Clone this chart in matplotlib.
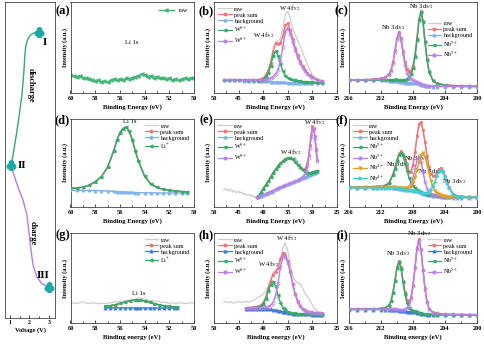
import matplotlib
matplotlib.use("Agg")
import matplotlib.pyplot as plt

plt.rcParams['font.family'] = ['Liberation Serif', 'DejaVu Serif']
plt.rcParams['mathtext.fontset'] = 'stix'

# ---------------- left panel: voltage profile ----------------
dis_V = [2.50, 2.35, 2.19, 2.03, 1.94, 1.86, 1.81, 1.76, 1.73, 1.67, 1.60, 1.47, 1.34, 1.14, 1.05]
dis_t = [0.94, 0.95, 0.99, 1.06, 1.15, 1.27, 1.41, 1.70, 2.05, 2.55, 3.00, 3.60, 4.15, 4.90, 5.16]
chg_V = [1.05, 1.15, 1.41, 1.67, 1.87, 1.97, 2.08, 2.18, 2.38, 2.64, 3.00]
chg_t = [5.16, 5.38, 5.85, 6.27, 6.74, 7.28, 7.85, 8.32, 8.70, 8.92, 9.02]
state_V = [2.50, 1.05, 3.00]
state_t = [0.94, 5.16, 9.02]
state_lbl = ['I', 'II', 'III']
volt_ticks = [1, 2, 3]

# ---------------- Li 1s panels ----------------
li_x = [60.0, 59.75, 59.5, 59.25, 59.0, 58.75, 58.5, 58.25, 58.0, 57.75, 57.5, 57.25, 57.0, 56.75,
        56.5, 56.25, 56.0, 55.75, 55.5, 55.25, 55.0, 54.75, 54.5, 54.25, 54.0, 53.75, 53.5, 53.25,
        53.0, 52.75, 52.5, 52.25, 52.0, 51.75, 51.5, 51.25, 51.0, 50.75, 50.5, 50.25, 50.0]
a_raw = [0.20, 0.19, 0.18, 0.19, 0.17, 0.16, 0.15, 0.14, 0.13, 0.14, 0.12, 0.13, 0.12, 0.14,
         0.15, 0.14, 0.15, 0.14, 0.16, 0.15, 0.17, 0.18, 0.19, 0.21, 0.20, 0.18, 0.19, 0.17,
         0.18, 0.16, 0.17, 0.15, 0.16, 0.14, 0.15, 0.14, 0.15, 0.16, 0.15, 0.17, 0.16]

d_x = [60, 59.5, 59, 58.5, 58, 57.5, 57, 56.5, 56.25, 56, 55.75, 55.5, 55.25, 55, 54.75, 54.5,
       54, 53.5, 53, 52.5, 52, 51.5, 51, 50.6]
d_bg = [0.19, 0.1895, 0.189, 0.188, 0.187, 0.185, 0.182, 0.178, 0.176, 0.174, 0.172, 0.17,
        0.168, 0.166, 0.1645, 0.163, 0.161, 0.1605, 0.16, 0.1595, 0.159, 0.1585, 0.158, 0.158]
d_li = [0.022, 0.028, 0.035, 0.06, 0.10, 0.16, 0.27, 0.46, 0.58, 0.67, 0.72, 0.74, 0.69, 0.60,
        0.47, 0.36, 0.19, 0.10, 0.062, 0.042, 0.031, 0.023, 0.018, 0.015]

g_x = [57.2, 56.8, 56.4, 56.0, 55.6, 55.2, 54.8, 54.6, 54.4, 54.0, 53.6, 53.2, 52.8, 52.4, 52.0, 51.6, 51.4]
g_bg = [0.168, 0.168, 0.168, 0.1678, 0.1675, 0.1672, 0.167, 0.1668, 0.1667, 0.1665, 0.1663,
        0.1662, 0.1661, 0.166, 0.166, 0.166, 0.166]
g_li = [0.018, 0.024, 0.035, 0.049, 0.064, 0.079, 0.089, 0.09, 0.089, 0.079, 0.064, 0.049,
        0.035, 0.024, 0.018, 0.012, 0.011]
g_raw = [0.22, 0.225, 0.215, 0.225, 0.235, 0.22, 0.215, 0.225, 0.22, 0.215, 0.22, 0.215, 0.22,
         0.225, 0.23, 0.235, 0.24, 0.245, 0.25, 0.255, 0.26, 0.265, 0.28, 0.27, 0.265, 0.255,
         0.25, 0.245, 0.24, 0.235, 0.23, 0.225, 0.22, 0.225, 0.215, 0.22, 0.225, 0.215, 0.22,
         0.225, 0.22]

# ---------------- W 4f panels ----------------
b_x = [48, 47, 46, 45, 44, 43, 42, 41, 40.5, 40, 39.5, 39, 38.5, 38, 37.5, 37, 36.5, 36, 35.5,
       35, 34.5, 34, 33.5, 33, 32.5, 32, 31.5, 31, 30.5, 30, 29, 28]
b_bg = [0.145, 0.143, 0.141, 0.139, 0.137, 0.135, 0.133, 0.131, 0.130, 0.129, 0.128, 0.127,
        0.126, 0.125, 0.124, 0.122, 0.120, 0.118, 0.116, 0.114, 0.113, 0.112, 0.111, 0.110,
        0.110, 0.109, 0.109, 0.108, 0.108, 0.107, 0.106, 0.105]
b_w1 = [0, 0, 0, 0, 0.001, 0.002, 0.003, 0.005, 0.01, 0.02, 0.045, 0.09, 0.17, 0.28, 0.34, 0.29,
        0.20, 0.12, 0.075, 0.05, 0.04, 0.033, 0.028, 0.024, 0.02, 0.017, 0.014, 0.012, 0.01,
        0.009, 0.007, 0.005]
b_w2 = [0.002, 0.003, 0.003, 0.004, 0.005, 0.006, 0.008, 0.01, 0.012, 0.015, 0.02, 0.026, 0.035,
        0.05, 0.08, 0.13, 0.23, 0.39, 0.56, 0.60, 0.54, 0.45, 0.36, 0.285, 0.22, 0.17, 0.13,
        0.10, 0.075, 0.058, 0.035, 0.022]
b_raw = [0.15, 0.145, 0.148, 0.142, 0.146, 0.14, 0.147, 0.15, 0.155, 0.17, 0.2, 0.25, 0.34, 0.47,
         0.56, 0.57, 0.6, 0.72, 0.86, 0.9, 0.82, 0.71, 0.64, 0.58, 0.52, 0.45, 0.38, 0.31, 0.25,
         0.2, 0.155, 0.135]

e_x = [41.25, 41, 40.5, 40, 39.5, 39, 38.5, 38, 37.5, 37, 36.5, 36, 35.5, 35, 34.5, 34, 33.5, 33,
       32.5, 32, 31.5, 31.25, 31, 30.75, 30.5, 30.25, 30, 29.75, 29.5, 29.25, 29.0]
e_bg = [0.11, 0.116, 0.128, 0.14, 0.151, 0.163, 0.175, 0.187, 0.199, 0.211, 0.222, 0.234, 0.246,
        0.258, 0.27, 0.282, 0.293, 0.305, 0.317, 0.329, 0.341, 0.346, 0.352, 0.358, 0.364, 0.37,
        0.376, 0.382, 0.388, 0.394, 0.4]
e_w1 = [0.0, 0.01, 0.035, 0.07, 0.10, 0.13, 0.165, 0.20, 0.23, 0.255, 0.275, 0.29, 0.298, 0.298,
        0.285, 0.26, 0.22, 0.175, 0.13, 0.09, 0.055, 0.045, 0.035, 0.03, 0.025, 0.022, 0.02,
        0.018, 0.016, 0.014, 0.012]
e_w2 = [0, 0, 0, 0, 0, 0, 0, 0, 0, 0, 0, 0, 0, 0, 0, 0, 0, 0, 0.005, 0.01, 0.03, 0.06, 0.11,
        0.20, 0.31, 0.43, 0.52, 0.50, 0.40, 0.25, 0.12]
e_raw_x = [48, 47.75, 47.5, 47.25, 47, 46.75, 46.5, 46.25, 46, 45.75, 45.5, 45.25, 45, 44.75,
           44.5, 44.25, 44, 43.75, 43.5, 43.25, 43, 42.75, 42.5, 42.25, 42, 41.75, 41.5, 41.25,
           41, 40.5, 40, 39.5, 39, 38.5, 38, 37.5, 37, 36.5, 36, 35.5, 35, 34.5, 34, 33.5, 33,
           32.5, 32, 31.5, 31, 30.5, 30, 29.5, 29]
e_raw = [0.2, 0.21, 0.19, 0.2, 0.18, 0.2, 0.19, 0.17, 0.19, 0.18, 0.16, 0.17, 0.18, 0.16, 0.17,
         0.15, 0.16, 0.14, 0.15, 0.13, 0.14, 0.13, 0.14, 0.12, 0.13, 0.11, 0.12, 0.11,
         0.12, 0.15, 0.19, 0.24, 0.29, 0.33, 0.38, 0.42, 0.46, 0.5, 0.52, 0.55, 0.57, 0.56, 0.55,
         0.56, 0.52, 0.47, 0.42, 0.43, 0.5, 0.7, 0.9, 0.82, 0.55]

h_x = [43.5, 43, 42.5, 42, 41.5, 41, 40.5, 40, 39.5, 39, 38.5, 38, 37.5, 37, 36.5, 36, 35.75,
       35.5, 35, 34.5, 34, 33.5, 33, 32.5, 32, 31.5, 31, 30.5, 30, 29.5, 29, 28.5, 28]
h_bg = [0.157, 0.157, 0.157, 0.157, 0.1569, 0.1568, 0.1567, 0.1567, 0.1557, 0.1538, 0.1508,
        0.1476, 0.1431, 0.1375, 0.1321, 0.1254, 0.1216, 0.1183, 0.1119, 0.1064, 0.1023, 0.099,
        0.0972, 0.0961, 0.0954, 0.0949, 0.0947, 0.0945, 0.0944, 0.0943, 0.0942, 0.0941, 0.094]
h_w1 = [0.005, 0.006, 0.007, 0.009, 0.011, 0.017, 0.028, 0.053, 0.109, 0.2, 0.275, 0.31, 0.27,
        0.174, 0.093, 0.043, 0.03, 0.022, 0.014, 0.01, 0.008, 0.007, 0.006, 0.005, 0.005, 0.004,
        0.004, 0.003, 0.003, 0.003, 0.002, 0.002, 0.002]
h_w2 = [0.004, 0.005, 0.006, 0.007, 0.008, 0.01, 0.013, 0.016, 0.021, 0.028, 0.044, 0.079, 0.158,
        0.302, 0.49, 0.611, 0.63, 0.617, 0.56, 0.46, 0.328, 0.22, 0.139, 0.088, 0.057, 0.041,
        0.032, 0.024, 0.02, 0.018, 0.015, 0.013, 0.011]
h_raw_x = [48, 47.5, 47, 46.5, 46, 45.5, 45, 44.5, 44, 43.5, 43, 42.5, 42, 41.5, 41, 40.5, 40,
           39.5, 39, 38.5, 38, 37.5, 37, 36.5, 36, 35.5, 35, 34.5, 34, 33.5, 33, 32.5, 32, 31.5,
           31, 30.5, 30, 29.5, 29, 28.5, 28]
h_raw = [0.23, 0.24, 0.225, 0.235, 0.22, 0.23, 0.24, 0.225, 0.235, 0.24, 0.23, 0.245, 0.25, 0.27,
         0.29, 0.3, 0.32, 0.35, 0.41, 0.49, 0.56, 0.58, 0.6, 0.68, 0.84, 0.89, 0.8, 0.65, 0.52,
         0.47, 0.45, 0.43, 0.39, 0.33, 0.29, 0.25, 0.2, 0.16, 0.13, 0.12, 0.11]

# ---------------- Nb 3d panels ----------------
nb_x = [216, 215, 214, 213, 212, 211.5, 211, 210.75, 210.5, 210.25, 210, 209.75, 209.5, 209.25,
        209, 208.75, 208.5, 208.25, 208, 207.75, 207.5, 207.25, 207, 206.75, 206.5, 206.25, 206,
        205.5, 205, 204, 203, 202, 201, 200]
c_bg = [0.140, 0.1395, 0.139, 0.1385, 0.138, 0.1375, 0.137, 0.136, 0.1355, 0.1346, 0.131, 0.1253,
        0.1197, 0.116, 0.114, 0.1127, 0.112, 0.111, 0.1103, 0.1084, 0.1054, 0.1, 0.0914, 0.083,
        0.0774, 0.0744, 0.0727, 0.0714, 0.071, 0.0705, 0.0703, 0.0702, 0.0701, 0.07]
c_nb1 = [0.002, 0.002, 0.003, 0.004, 0.006, 0.007, 0.009, 0.01, 0.012, 0.014, 0.015, 0.018, 0.022,
         0.027, 0.032, 0.044, 0.06, 0.096, 0.16, 0.29, 0.48, 0.7, 0.8, 0.7, 0.48, 0.29, 0.16, 0.06,
         0.032, 0.015, 0.009, 0.006, 0.004, 0.003]
c_nb2 = [0.003, 0.004, 0.005, 0.009, 0.018, 0.029, 0.064, 0.106, 0.19, 0.32, 0.46, 0.53, 0.46,
         0.32, 0.19, 0.106, 0.064, 0.04, 0.029, 0.021, 0.018, 0.014, 0.012, 0.01, 0.009, 0.008,
         0.007, 0.006, 0.005, 0.004, 0.003, 0.002, 0.002, 0.002]

i_bg = [0.1496, 0.1496, 0.1495, 0.1494, 0.1492, 0.149, 0.1485, 0.1478, 0.1466, 0.1447, 0.1418,
        0.1374, 0.133, 0.1301, 0.1281, 0.1266, 0.1255, 0.1243, 0.1223, 0.1192, 0.1148, 0.1083,
        0.1018, 0.0974, 0.0945, 0.0927, 0.0918, 0.0913, 0.0909, 0.0906, 0.0904, 0.0903, 0.0902, 0.09]
i_nb1 = [0.0016, 0.0022, 0.003, 0.0049, 0.0097, 0.016, 0.043, 0.092, 0.189, 0.324, 0.47, 0.54,
         0.47, 0.324, 0.189, 0.092, 0.043, 0.024, 0.016, 0.012, 0.0097, 0.0081, 0.0065, 0.0054,
         0.0049, 0.0043, 0.0038, 0.003, 0.0025, 0.002, 0.0016, 0.0016, 0.0016, 0.0016]
i_nb2 = [0.0024, 0.0024, 0.0024, 0.003, 0.0037, 0.0045, 0.0057, 0.0065, 0.0073, 0.0082, 0.0098,
         0.012, 0.0147, 0.018, 0.024, 0.037, 0.065, 0.139, 0.285, 0.489, 0.709, 0.815, 0.709,
         0.489, 0.285, 0.139, 0.065, 0.024, 0.0147, 0.0073, 0.0045, 0.003, 0.0026, 0.0024]

f_x = [216, 215, 214, 213, 212.5, 212, 211.5, 211, 210.5, 210.25, 210, 209.75, 209.5, 209.25, 209,
       208.75, 208.5, 208.25, 208, 207.75, 207.5, 207.25, 207, 206.75, 206.5, 206.25, 206, 205.75,
       205.5, 205.25, 205, 204.75, 204.5, 204.25, 204, 203.75, 203.5, 203, 202.5, 202, 201, 200]
f_bg = [0.22, 0.22, 0.22, 0.2199, 0.2198, 0.2197, 0.2195, 0.2192, 0.218, 0.216, 0.2129, 0.209,
        0.2044, 0.1999, 0.196, 0.193, 0.1905, 0.1887, 0.1863, 0.1825, 0.1766, 0.1688, 0.16,
        0.1513, 0.144, 0.1386, 0.1346, 0.1317, 0.1295, 0.1273, 0.1249, 0.1218, 0.1185, 0.1152,
        0.1123, 0.1101, 0.1086, 0.1073, 0.107, 0.107, 0.107, 0.107]
f_nb1 = [0.002, 0.0025, 0.004, 0.006, 0.008, 0.011, 0.018, 0.049, 0.144, 0.221, 0.308, 0.381, 0.41,
         0.381, 0.308, 0.221, 0.144, 0.086, 0.049, 0.029, 0.018, 0.014, 0.011, 0.009, 0.008, 0.007,
         0.006, 0.005, 0.0045, 0.004, 0.0037, 0.0034, 0.003, 0.0028, 0.0026, 0.0024, 0.002,
         0.0018, 0.0016, 0.0014, 0.001, 0.001]
f_nb2 = [0.001, 0.001, 0.0012, 0.0014, 0.0016, 0.002, 0.0023, 0.0028, 0.0037, 0.0041, 0.0049,
         0.0062, 0.0074, 0.009, 0.012, 0.018, 0.033, 0.07, 0.144, 0.246, 0.357, 0.41, 0.357,
         0.246, 0.144, 0.07, 0.033, 0.018, 0.012, 0.009, 0.0074, 0.0062, 0.0049, 0.0041, 0.0037,
         0.0033, 0.003, 0.0025, 0.002, 0.0018, 0.0015, 0.0012]
f_nb3 = [0.001, 0.0014, 0.0018, 0.0023, 0.0028, 0.003, 0.0037, 0.0046, 0.0058, 0.0064, 0.0075,
         0.0087, 0.0106, 0.0129, 0.016, 0.021, 0.032, 0.055, 0.097, 0.161, 0.248, 0.345, 0.428,
         0.46, 0.428, 0.345, 0.248, 0.161, 0.097, 0.055, 0.032, 0.021, 0.016, 0.0129, 0.0106,
         0.0087, 0.0075, 0.0058, 0.0046, 0.0037, 0.0028, 0.0023]
f_nb4 = [0.0006, 0.0006, 0.0008, 0.0009, 0.0009, 0.001, 0.0012, 0.0013, 0.0015, 0.0016, 0.0018,
         0.0019, 0.0021, 0.0024, 0.0027, 0.003, 0.0033, 0.0037, 0.0042, 0.005, 0.0057, 0.0069,
         0.0084, 0.0105, 0.0135, 0.021, 0.036, 0.063, 0.105, 0.162, 0.225, 0.279, 0.3, 0.279,
         0.225, 0.162, 0.105, 0.036, 0.0135, 0.0084, 0.0042, 0.0027]

# ---------------- styling ----------------
C_RAW = '#cdcdcd'
C_SUM = '#f27474'
C_BG = '#7fb0ea'
C_BG2 = '#3f7ad8'
C_G = '#35aa6c'
C_P = '#b982e6'
C_Y = '#dca526'
C_C = '#3ccfd8'
C_LG = '#3aa86a'
C_LP = '#b27ee0'
C_CLUB = '#1aa9a3'
LW = 1.05
MS = 2.3

W, H = 484.0, 344.0
fig = plt.figure(figsize=(4.84, 3.44), dpi=100)


def rect(l, t, r, b):
    return [l / W, 1 - b / H, (r - l) / W, (b - t) / H]


cols = [(70.5, 194), (214, 337), (349, 477)]
rows = [(2, 93), (119, 207), (233, 323)]


def make_ax(ci, ri):
    l, r = cols[ci]
    t, b = rows[ri]
    return fig.add_axes(rect(l, t, r, b))


def style(ax, xlim, ticks, minor, xlabel, letter, ly):
    ax.set_xlim(*xlim)
    ax.set_ylim(0, 1)
    ax.set_xticks(ticks)
    ax.set_xticklabels([str(v) for v in ticks])
    ax.set_xticks(minor, minor=True)
    ax.set_yticks([])
    ax.tick_params(axis='x', which='both', direction='in', labelsize=4.6, pad=1.8, width=0.5)
    ax.tick_params(axis='x', which='major', length=2)
    ax.tick_params(axis='x', which='minor', length=1.2)
    plt.setp(ax.get_xticklabels(), fontweight='bold')
    ax.set_xlabel(xlabel, fontsize=4.8, fontweight='bold', labelpad=2.5)
    ax.set_ylabel('Intensity (a.u.)', fontsize=4.4, fontweight='bold', labelpad=2)
    for s in ax.spines.values():
        s.set_linewidth(0.6)
        s.set_color('#444444')
    ax.text(-0.004, ly, '(' + letter + ')', transform=ax.transAxes, ha='right', va='center',
            fontsize=9, fontweight='bold')


def add(a, b):
    return [u + v for u, v in zip(a, b)]


def fit(ax, x, bg, comps, ccols, cmarks, bgc=C_BG, raw_x=None, raw_y=None):
    total = list(bg)
    for c in comps:
        total = add(total, c)
    if raw_x is None:
        raw_x, raw_y = x, total
    ax.plot(raw_x, raw_y, color=C_RAW, lw=0.9, zorder=1)
    ax.plot(x, total, color=C_SUM, lw=LW, marker='o', ms=MS * 0.8, mew=0.4, zorder=2)
    ax.plot(x, bg, color=bgc, lw=LW, marker='^', ms=MS, mew=0.4, zorder=3)
    for c, col, mk in zip(comps, ccols, cmarks):
        ax.plot(x, add(bg, c), color=col, lw=LW, marker=mk, ms=MS, mew=0.5, zorder=4,
                mfc='none' if mk == 'o' else col)


def legend(ax, labels, ccols, cmarks, loc, anchor=None, bgc=C_BG):
    from matplotlib.lines import Line2D
    hs = [Line2D([], [], color=C_RAW, lw=0.9),
          Line2D([], [], color=C_SUM, lw=0.9, marker='o', ms=1.8),
          Line2D([], [], color=bgc, lw=0.9, marker='^', ms=2.0)]
    for col, mk in zip(ccols, cmarks):
        hs.append(Line2D([], [], color=col, lw=0.9, marker=mk, ms=2.0,
                         mfc='none' if mk == 'o' else col))
    kw = dict(fontsize=4.4, frameon=False, handlelength=2.2, labelspacing=0.12,
              handletextpad=0.4, borderaxespad=0.3, loc=loc)
    if anchor is not None:
        kw['bbox_to_anchor'] = anchor
    ax.legend(hs, labels, **kw)


li_ticks = [60, 58, 56, 54, 52, 50]
li_minor = [59, 57, 55, 53, 51]
w_ticks = [50, 45, 40, 35, 30, 25]
w_minor = [47.5, 42.5, 37.5, 32.5, 27.5]
nb_ticks = [216, 212, 208, 204, 200]
nb_minor = [214, 210, 206, 202]
XL1 = 'Binding Energy (eV)'
XL2 = 'Binding energy (eV)'
tfs = 4.8

# ---- (a)
ax = make_ax(0, 0)
ax.plot(li_x, a_raw, color='#45b578', lw=LW, marker='<', ms=MS, label='raw')
style(ax, (60, 50), li_ticks, li_minor, XL1, 'a', 0.9)
ax.legend(loc='upper right', fontsize=4.4, frameon=False, handlelength=2.4, borderaxespad=0.6)
ax.text(55.0, 0.55, 'Li 1s', fontsize=tfs, ha='center', va='center')

# ---- (b)
ax = make_ax(1, 0)
fit(ax, b_x, b_bg, [b_w1, b_w2], [C_G, C_P], ['<', 'o'], raw_x=b_x, raw_y=b_raw)
style(ax, (50, 25), w_ticks, w_minor, XL1, 'b', 0.9)
legend(ax, ['raw', 'peak sum', 'background', 'W$^{6+}$', 'W$^{6+}$'], [C_G, C_P], ['<', 'o'],
       'upper left')
ax.text(34.6, 0.93, 'W 4f$_{7/2}$', fontsize=tfs, ha='center', va='center')
ax.text(40.0, 0.64, 'W 4f$_{5/2}$', fontsize=tfs, ha='center', va='center')

# ---- (c)
ax = make_ax(2, 0)
fit(ax, nb_x, c_bg, [c_nb1, c_nb2], [C_G, C_P], ['<', 'o'])
style(ax, (216, 200), nb_ticks, nb_minor, XL1, 'c', 0.9)
legend(ax, ['raw', 'peak sum', 'background', 'Nb$^{5+}$', 'Nb$^{5+}$'], [C_G, C_P], ['<', 'o'],
       'upper left', anchor=(0.58, 0.84))
ax.text(207.0, 0.95, 'Nb 3d$_{5/2}$', fontsize=tfs, ha='center', va='center')
ax.text(210.5, 0.72, 'Nb 3d$_{3/2}$', fontsize=tfs, ha='center', va='center')

# ---- (d)
ax = make_ax(0, 1)
fit(ax, d_x, d_bg, [d_li], [C_G], ['<'])
style(ax, (60, 50), li_ticks, li_minor, XL1, 'd', 0.98)
legend(ax, ['raw', 'peak sum', 'background', 'Li$^{+}$'], [C_G], ['<'], 'upper right')
ax.text(55.2, 0.97, 'Li 1s', fontsize=tfs, ha='center', va='center')

# ---- (e)
ax = make_ax(1, 1)
fit(ax, e_x, e_bg, [e_w1, e_w2], [C_G, C_P], ['<', 'o'], raw_x=e_raw_x, raw_y=e_raw)
style(ax, (50, 25), w_ticks, w_minor, XL1, 'e', 0.98)
legend(ax, ['raw', 'peak sum', 'background', 'W$^{5+}$', 'W$^{5+}$'], [C_G, C_P], ['<', 'o'],
       'upper left')
ax.text(34.5, 0.63, 'W 4f$_{5/2}$', fontsize=tfs, ha='center', va='center')
ax.text(29.5, 0.96, 'W 4f$_{7/2}$', fontsize=tfs, ha='center', va='center')

# ---- (f)
ax = make_ax(2, 1)
fit(ax, f_x, f_bg, [f_nb1, f_nb2, f_nb3, f_nb4], [C_G, C_P, C_Y, C_C], ['<', 'o', 'v', '>'])
style(ax, (216, 200), nb_ticks, nb_minor, XL1, 'f', 0.98)
legend(ax, ['raw', 'peak sum', 'background', 'Nb$^{5+}$', 'Nb$^{5+}$', 'Nb$^{4+}$', 'Nb$^{4+}$'],
       [C_G, C_P, C_Y, C_C], ['<', 'o', 'v', '>'], 'upper left')
ax.text(209.9, 0.48, 'Nb 3d$_{3/2}$', fontsize=tfs, ha='center', va='center')
ax.text(207.6, 0.55, 'Nb 3d$_{5/2}$', fontsize=tfs, ha='center', va='center')
ax.text(205.8, 0.40, 'Nb 3d$_{3/2}$', fontsize=tfs, ha='center', va='center')
ax.text(202.9, 0.29, 'Nb 3d$_{5/2}$', fontsize=tfs, ha='center', va='center')

# ---- (g)
ax = make_ax(0, 2)
fit(ax, g_x, g_bg, [g_li], [C_G], ['<'], bgc=C_BG2, raw_x=li_x, raw_y=g_raw)
style(ax, (60, 50), li_ticks, li_minor, XL2, 'g', 0.98)
legend(ax, ['raw', 'peak sum', 'background', 'Li$^{+}$'], [C_G], ['<'], 'upper right', bgc=C_BG2)
ax.text(54.5, 0.33, 'Li 1s', fontsize=tfs, ha='center', va='center')

# ---- (h)
ax = make_ax(1, 2)
fit(ax, h_x, h_bg, [h_w1, h_w2], [C_G, C_P], ['<', 'o'], bgc=C_BG2, raw_x=h_raw_x, raw_y=h_raw)
style(ax, (50, 25), w_ticks, w_minor, XL2, 'h', 0.98)
legend(ax, ['raw', 'peak sum', 'background', 'W$^{6+}$', 'W$^{6+}$'], [C_G, C_P], ['<', 'o'],
       'upper left', bgc=C_BG2)
ax.text(35.2, 0.94, 'W 4f$_{7/2}$', fontsize=tfs, ha='center', va='center')
ax.text(38.9, 0.65, 'W 4f$_{5/2}$', fontsize=tfs, ha='center', va='center')

# ---- (i)
ax = make_ax(2, 2)
fit(ax, nb_x, i_bg, [i_nb1, i_nb2], [C_G, C_P], ['<', 'o'], bgc=C_BG2)
style(ax, (216, 200), nb_ticks, nb_minor, XL2, 'i', 0.98)
legend(ax, ['raw', 'peak sum', 'background', 'Nb$^{5+}$', 'Nb$^{5+}$'], [C_G, C_P], ['<', 'o'],
       'upper right', bgc=C_BG2)
ax.text(207.2, 0.99, 'Nb 3d$_{5/2}$', fontsize=tfs, ha='center', va='center')
ax.text(209.9, 0.77, 'Nb 3d$_{3/2}$', fontsize=tfs, ha='center', va='center')

# ---- left voltage panel
axL = fig.add_axes(rect(5, 2, 55, 318))
axL.plot(dis_V, dis_t, color=C_LG, lw=1.0, zorder=2)
axL.plot(chg_V, chg_t, color=C_LP, lw=1.0, zorder=2)
axL.plot(state_V, state_t, ls='none', marker='$\u2663$', ms=7, color=C_CLUB, zorder=3)
axL.set_xlim(0.744, 3.31)
axL.set_ylim(10, 0)
axL.set_xticks(volt_ticks)
axL.set_xticklabels([str(v) for v in volt_ticks])
axL.set_xticks([1.5, 2.5], minor=True)
axL.set_yticks([])
axL.tick_params(axis='x', which='both', direction='in', labelsize=4.2, pad=1.5, width=0.5)
axL.tick_params(axis='x', which='major', length=2)
axL.tick_params(axis='x', which='minor', length=1.2)
plt.setp(axL.get_xticklabels(), fontweight='bold')
axL.set_xlabel('Voltage (V)', fontsize=4.6, fontweight='bold', labelpad=1.5)
for s in axL.spines.values():
    s.set_linewidth(0.6)
    s.set_color('#444444')
lbl_pos = [(2.79, 1.27), (1.62, 5.16), (2.72, 8.67)]
for (vx, ty), s in zip(lbl_pos, state_lbl):
    axL.text(vx, ty, s, fontsize=8, fontweight='bold', ha='center', va='center')
axL.text(2.08, 2.63, 'discharge', rotation=270, fontsize=6, fontweight='bold',
         ha='center', va='center')
axL.text(2.18, 7.31, 'charge', rotation=270, fontsize=6, fontweight='bold',
         ha='center', va='center')

fig.savefig('out.png', dpi=100)
